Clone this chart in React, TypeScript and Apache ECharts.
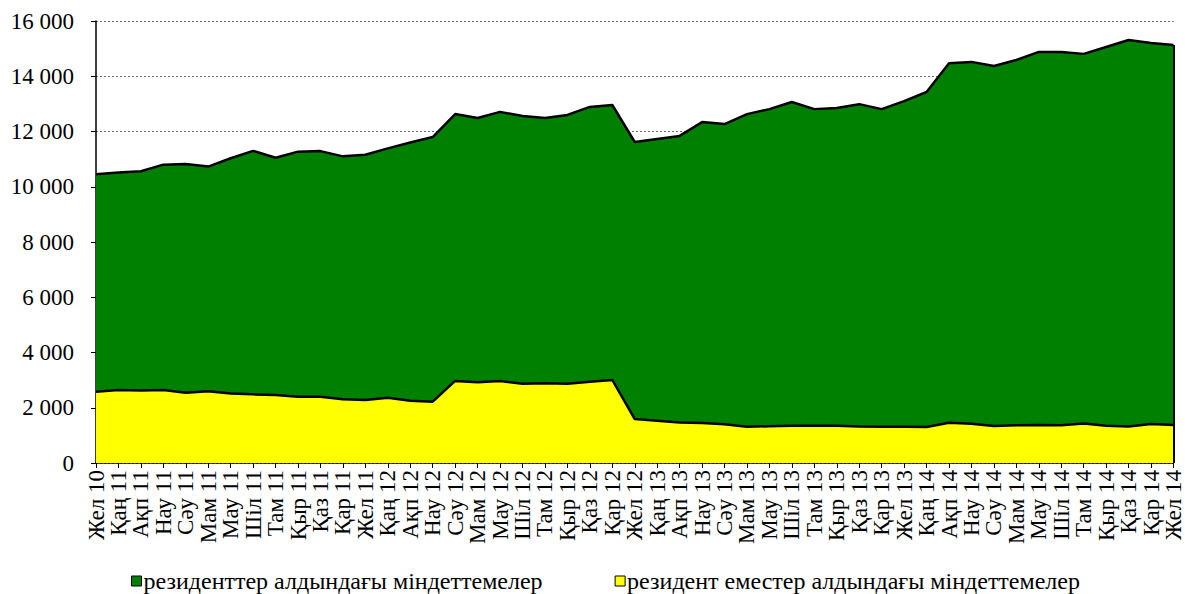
import React, { useEffect, useRef } from "react";
import * as echarts from "echarts";

const categories = [
  "Жел 10",
  "Қаң 11", "Ақп 11", "Нау 11", "Сәу 11", "Мам 11", "Мау 11", "Шіл 11", "Там 11", "Қыр 11", "Қаз 11", "Қар 11", "Жел 11",
  "Қаң 12", "Ақп 12", "Нау 12", "Сәу 12", "Мам 12", "Мау 12", "Шіл 12", "Там 12", "Қыр 12", "Қаз 12", "Қар 12", "Жел 12",
  "Қаң 13", "Ақп 13", "Нау 13", "Сәу 13", "Мам 13", "Мау 13", "Шіл 13", "Там 13", "Қыр 13", "Қаз 13", "Қар 13", "Жел 13",
  "Қаң 14", "Ақп 14", "Нау 14", "Сәу 14", "Мам 14", "Мау 14", "Шіл 14", "Там 14", "Қыр 14", "Қаз 14", "Қар 14", "Жел 14",
];

// резидент еместер алдындағы міндеттемелер (bottom, yellow)
const nonResidents = [
  2580,
  2640, 2620, 2640, 2545, 2600, 2520, 2485, 2460, 2400, 2400, 2305, 2280,
  2365, 2255, 2220, 2970, 2920, 2970, 2870, 2885, 2870, 2945, 3005, 1590,
  1530, 1470, 1450, 1400, 1315, 1330, 1350, 1345, 1345, 1320, 1310, 1310,
  1300, 1460, 1420, 1340, 1370, 1380, 1370, 1430, 1350, 1320, 1410, 1380,
];

// резиденттер алдындағы міндеттемелер (top, green)
const residents = [
  7870,
  7880, 7940, 8160, 8275, 8130, 8510, 8815, 8590, 8870, 8890, 8795, 8880,
  9025, 9345, 9580, 9660, 9570, 9740, 9690, 9605, 9730, 9945, 9955, 10030,
  10200, 10370, 10890, 10870, 11315, 11480, 11720, 11465, 11505, 11670, 11500, 11790,
  12130, 13010, 13100, 13030, 13220, 13500, 13510, 13380, 13710, 13990, 13790, 13750,
];

const yTicks = { min: 0, max: 16000, interval: 2000 };

const nameResidents = "резиденттер алдындағы міндеттемелер";
const nameNonResidents = "резидент еместер алдындағы міндеттемелер";

const FONT = '"Liberation Serif", "Times New Roman", serif';

function fmt(v: number): string {
  return String(v).replace(/\B(?=(\d{3})+(?!\d))/g, " ");
}

export default function App() {
  const ref = useRef<HTMLDivElement>(null);
  useEffect(() => {
    if (!ref.current) return;
    const chart = echarts.init(ref.current, undefined, { renderer: "svg" });
    const last = categories.length - 1;
    const lastTotal = nonResidents[last] + residents[last];
    chart.setOption({
      animation: false,
      textStyle: { fontFamily: FONT },
      grid: { left: 96, right: 11, top: 21, bottom: 131, containLabel: false },
      legend: {
        left: 131,
        top: 569,
        padding: 0,
        itemGap: 72,
        itemWidth: 10,
        itemHeight: 10,
        icon: "rect",
        data: [
          { name: nameResidents, itemStyle: { color: "#008000", borderColor: "#000", borderWidth: 1 } },
          { name: nameNonResidents, itemStyle: { color: "#FFFF00", borderColor: "#000", borderWidth: 1 } },
        ],
        textStyle: { fontFamily: FONT, fontSize: 24, color: "#000", padding: [0, 0, 0, -3] },
      },
      xAxis: {
        type: "category",
        data: categories,
        boundaryGap: false,
        axisLine: { lineStyle: { color: "#000", width: 1.5 } },
        axisTick: { alignWithLabel: true, length: 5, lineStyle: { color: "#000" } },
        axisLabel: {
          rotate: 90,
          interval: 0,
          margin: 7,
          fontFamily: FONT,
          fontSize: 23,
          color: "#000",
        },
      },
      yAxis: {
        type: "value",
        min: yTicks.min,
        max: yTicks.max,
        interval: yTicks.interval,
        axisLine: { show: true, lineStyle: { color: "#000", width: 1.5 } },
        axisTick: { show: true, length: 5, lineStyle: { color: "#000" } },
        axisLabel: {
          margin: 22,
          fontFamily: FONT,
          fontSize: 23,
          color: "#000",
          formatter: (v: number) => fmt(v),
        },
        splitLine: { show: true, lineStyle: { color: "#6e6e6e", type: [2, 2], width: 1 } },
      },
      series: [
        {
          name: nameNonResidents,
          type: "line",
          stack: "total",
          data: nonResidents,
          symbol: "none",
          lineStyle: { color: "#000", width: 2.5 },
          areaStyle: { color: "#FFFF00", opacity: 1 },
          itemStyle: { color: "#FFFF00" },
          z: 3,
        },
        {
          name: nameResidents,
          type: "line",
          stack: "total",
          data: residents,
          symbol: "none",
          lineStyle: { color: "#000", width: 2.5 },
          areaStyle: { color: "#008000", opacity: 1 },
          itemStyle: { color: "#008000" },
          z: 2,
          markLine: {
            silent: true,
            symbol: "none",
            label: { show: false },
            lineStyle: { color: "#000", width: 2, type: "solid" },
            data: [[{ coord: [last, 0] }, { coord: [last, lastTotal] }]],
          },
        },
      ],
    });
    return () => chart.dispose();
  }, []);
  return (
    <div
      ref={ref}
      style={{ position: "absolute", left: 0, top: 0, width: 1185, height: 594 }}
    />
  );
}
